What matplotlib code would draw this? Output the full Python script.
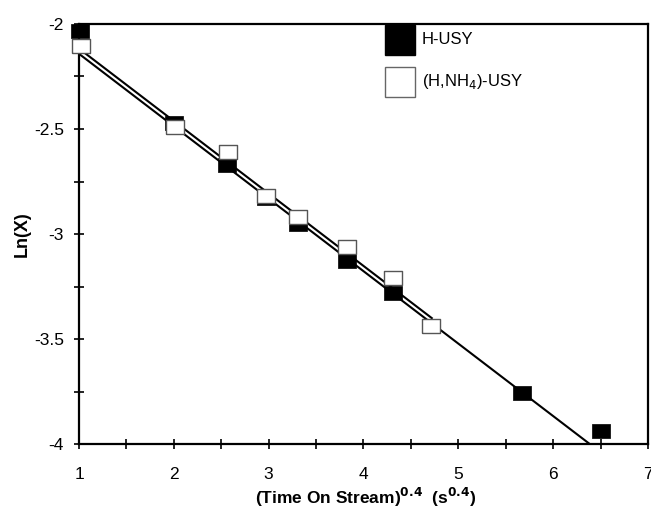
import matplotlib
matplotlib.use("Agg")
import matplotlib.pyplot as plt
import numpy as np

plt.rcParams['font.family'] = ['Liberation Sans', 'DejaVu Sans']

# Data
h_x = [1.01, 2.0, 2.56, 2.97, 3.31, 3.83, 4.31, 4.71, 5.67, 6.50]
h_y = [-2.033, -2.47, -2.67, -2.83, -2.952, -3.13, -3.28, -3.44, -3.757, -3.94]
nh_x = [1.02, 2.01, 2.57, 2.97, 3.31, 3.83, 4.31, 4.71]
nh_y = [-2.105, -2.49, -2.61, -2.82, -2.92, -3.06, -3.21, -3.436]

# Fitted lines (intercept, slope, x-start, x-end)
h_fit = (-1.797, -0.345, 1.0, 6.4)
nh_fit = (-1.772, -0.345, 1.0, 4.72)

labels = ["H-USY", "(H,NH$_4$)-USY"]

# slightly wide rectangular marker, as in the scan
rect = [(-1.0, -0.82), (1.0, -0.82), (1.0, 0.82), (-1.0, 0.82), (-1.0, -0.82)]

fig = plt.figure(figsize=(6.51, 5.11), dpi=100)
ax = fig.add_axes([79 / 651, 67 / 511, 569 / 651, 420 / 511])

for (b, m, x0, x1) in (h_fit, nh_fit):
    xs = np.array([x0, x1])
    ax.plot(xs, b + m * xs, color='black', lw=1.5, zorder=2)

ax.plot(h_x, h_y, ls='none', marker=rect, ms=12.5, mfc='black', mec='black',
        mew=0.5, zorder=3, clip_on=False)
ax.plot(nh_x, nh_y, ls='none', marker=rect, ms=12.5, mfc='white', mec='#555555',
        mew=1.0, zorder=4, clip_on=False)

ax.set_xlim(1, 7)
ax.set_ylim(-4, -2)
ax.set_xticks([1, 2, 3, 4, 5, 6, 7])
ax.set_xticks(np.arange(1.5, 7, 1.0), minor=True)
ax.set_yticks([-4, -3.5, -3, -2.5, -2])
ax.set_yticklabels(['-4', '-3.5', '-3', '-2.5', '-2'])
ax.set_yticks(np.arange(-3.75, -2, 0.5), minor=True)
ax.tick_params(axis='both', which='both', direction='inout', length=7.5, width=1.2,
               labelsize=12.5, top=False, right=False)
ax.tick_params(axis='x', which='major', pad=13)
ax.tick_params(axis='y', which='major', pad=7)
for s in ax.spines.values():
    s.set_linewidth(1.6)

ax.set_xlabel("(Time On Stream)$^{\\mathbf{0.4}}$  (s$^{\\mathbf{0.4}}$)",
              fontsize=12.5, fontweight='bold')
ax.xaxis.set_label_coords(0.503, -0.10)
ax.set_ylabel("Ln(X)", fontsize=13, fontweight='bold')
ax.yaxis.set_label_coords(-0.085, 0.5)

# legend drawn at the reference position
leg_y = [0.962, 0.862]
ax.plot([0.565], [leg_y[0]], transform=ax.transAxes, ls='none', marker='s', ms=22,
        mfc='black', mec='black', clip_on=False, zorder=5)
ax.plot([0.565], [leg_y[1]], transform=ax.transAxes, ls='none', marker='s', ms=22,
        mfc='white', mec='#666666', mew=1.0, clip_on=False, zorder=5)
for yy, lab in zip(leg_y, labels):
    ax.text(0.603, yy, lab, transform=ax.transAxes, fontsize=12, va='center',
            ha='left')

fig.savefig("out.png", dpi=100)
